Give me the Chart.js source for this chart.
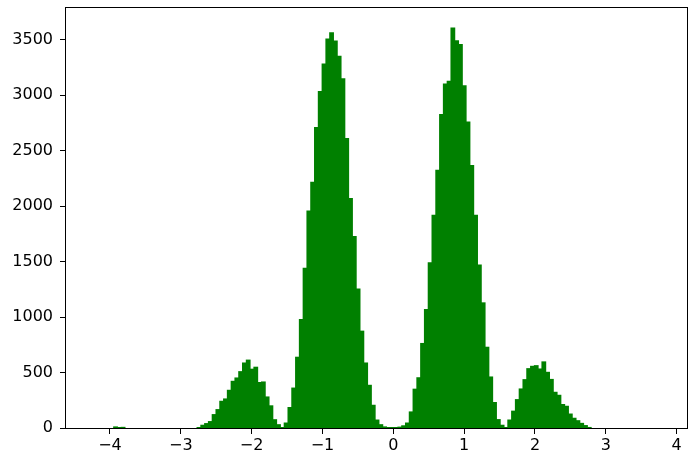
<!doctype html>
<html>
<head>
<meta charset="utf-8">
<script src="https://cdn.jsdelivr.net/npm/chart.js"></script>
<style>
  body { margin: 0; background: #fff; }
</style>
</head>
<body>
<canvas id="hist" width="688" height="452"></canvas>
<script>
// histogram bins: left edge of first bin and bin width
const binStart = -4.001;
const binWidth = 0.0535;

// counts per bin, from binStart upward
const counts = [
  0, 10, 2, 6,
  0, 0, 0, 0, 0, 0, 0, 0, 0, 0, 0, 0, 0, 0, 0, 0, 0, 0, 0,
  4, 25, 40, 58, 121, 166, 241, 262, 340, 421, 451, 508, 586, 612, 530, 548, 410, 415, 280, 200, 75, 30, 3,
  45, 185, 360, 638, 978, 1440, 1955, 2215, 2708, 3032, 3281, 3506, 3562, 3487, 3350, 3148, 2608, 2068,
  1725, 1252, 873, 586, 385, 205, 72, 30, 10, 3, 1, 2, 8,
  20, 45, 145, 350, 453, 762, 1068, 1490, 1918, 2322, 2825, 3101, 3124, 3605, 3490, 3456, 3084, 2758, 2365, 1918,
  1469, 1128, 728, 460, 230, 76, 25, 4,
  72, 152, 256, 352, 436, 535, 556, 562, 532, 596, 502, 438, 322, 295, 212, 196, 126, 88, 66, 42, 22, 5
];

const xTicks = [-4, -3, -2, -1, 0, 1, 2, 3, 4];
const yTicks = [0, 500, 1000, 1500, 2000, 2500, 3000, 3500];

// empty bins draw nothing, so leave them out
var points = counts
    .map((c, i) => ({ x: binStart + (i + 0.5) * binWidth, y: c }))
    .filter(p => p.y > 0);

// full box round the plot, like matplotlib spines
var frame = {
    id: 'frame',
    afterDraw(chart) {
        var a = chart.chartArea;
        var ctx = chart.ctx;
        ctx.save();
        ctx.strokeStyle = '#000';
        ctx.lineWidth = 1;
        ctx.strokeRect(Math.round(a.left) - 0.5, Math.round(a.top) - 0.5,
            Math.round(a.right - a.left) + 1, Math.round(a.bottom - a.top) + 1);
        ctx.restore();
    }
};

function minus(v) {
    return String(v).replace('-', '\u2212');
}

var font = { family: 'DejaVu Sans', size: 16 };

new Chart(document.getElementById('hist').getContext('2d'), {
    type: 'bar',
    data: {
        datasets: [{
            data: points,
            backgroundColor: '#008000',
            borderWidth: 0,
            inflateAmount: 0.5,
            barPercentage: 1,
            categoryPercentage: 1
        }]
    },
    options: {
        responsive: false,
        animation: false,
        layout: { padding: { left: 0, right: 1, top: 8, bottom: 0 } },
        plugins: { legend: { display: false }, tooltip: { enabled: false } },
        scales: {
            x: {
                type: 'linear',
                offset: false,
                min: -4.62,
                max: 4.146,
                afterBuildTicks: s => { s.ticks = xTicks.map(v => ({ value: v })); },
                afterFit: s => { s.height = 24; s.paddingLeft = 0; s.paddingRight = 0; },
                grid: { offset: false, drawOnChartArea: false, drawTicks: true, tickLength: 6, color: '#000' },
                border: { display: false },
                ticks: { color: '#000', font: font, padding: 2, maxRotation: 0, callback: v => minus(v) }
            },
            y: {
                min: 0,
                max: 3785,
                afterBuildTicks: s => { s.ticks = yTicks.map(v => ({ value: v })); },
                afterFit: s => { s.width = 66; s.paddingTop = 0; s.paddingBottom = 0; },
                grid: { drawOnChartArea: false, drawTicks: true, tickLength: 6, color: '#000' },
                border: { display: false },
                ticks: { color: '#000', font: font, padding: 7, callback: v => String(v) }
            }
        }
    },
    plugins: [frame]
});
</script>
</body>
</html>
